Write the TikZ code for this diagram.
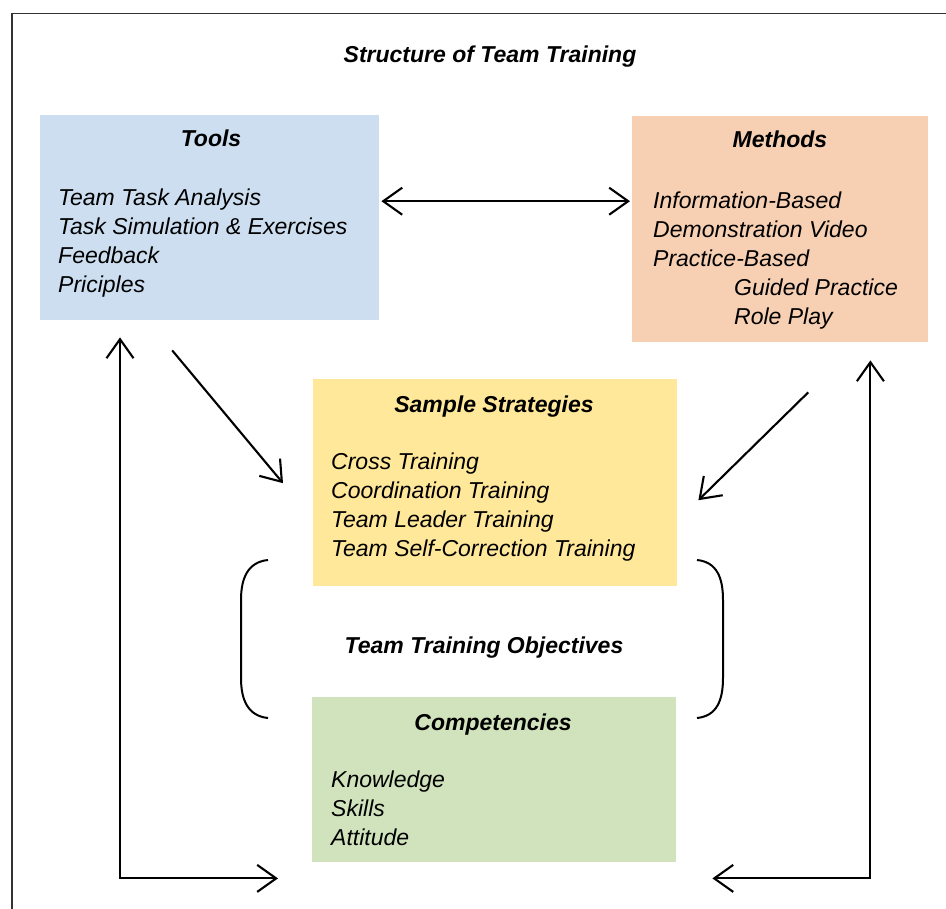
\documentclass[tikz,border=0pt]{standalone}
\usepackage{fontspec}
\setmainfont{Liberation Sans}
\usetikzlibrary{arrows.meta,calc}
\definecolor{toolsfill}{HTML}{CCDEEF}
\definecolor{methodsfill}{HTML}{F7CFB2}
\definecolor{stratfill}{HTML}{FFE899}
\definecolor{compfill}{HTML}{D1E3BC}
\definecolor{framegray}{HTML}{333333}
\begin{document}
\begin{tikzpicture}[x=1pt,y=-1pt,
  >={Straight Barb[length=19pt,width=27pt]},
  panel/.style={rectangle, inner sep=0pt, anchor=north west},
  head/.style={font=\fontsize{23}{29}\selectfont\bfseries\itshape, inner sep=0pt, anchor=base},
  body/.style={font=\fontsize{23}{29}\selectfont\itshape, align=left, inner sep=0pt, anchor=north west},
  link/.style={line width=2.1pt},
  bracket/.style={line width=2pt}]
\useasboundingbox (0,0) rectangle (946,909);
% outer frame (open at the right and bottom edges)
\draw[line width=1.6pt, framegray] (12,930) -- (12,13.5) -- (960,13.5);

% title
\node[head] (title) at (490,63) {Structure of Team Training};

% coloured panels
\node[panel, fill=toolsfill, minimum width=339pt, minimum height=205pt] (tools) at (40,115) {};
\node[panel, fill=methodsfill, minimum width=296pt, minimum height=226pt] (methods) at (632,116) {};
\node[panel, fill=stratfill, minimum width=364pt, minimum height=207pt] (strat) at (313,379) {};
\node[panel, fill=compfill, minimum width=364pt, minimum height=165pt] (comp) at (312,697) {};

% panel headings
\node[head] (toolshead) at (211,147) {Tools};
\node[head] (methodshead) at (780,148) {Methods};
\node[head] (strathead) at (494,413) {Sample Strategies};
\node[head] (comphead) at (493,730) {Competencies};
\node[head] (objectives) at (484,653) {Team Training Objectives};

% panel contents
\node[body] (toolsbody) at (58,188.5) {Team Task Analysis\\Task Simulation \& Exercises\\Feedback\\Priciples};
\node[body] (methodsbody) at (653,191.5) {Information-Based\\Demonstration Video\\Practice-Based\\\hspace*{81pt}Guided Practice\\\hspace*{81pt}Role Play};
\node[body] (stratbody) at (331,452.5) {Cross Training\\Coordination Training\\Team Leader Training\\Team Self-Correction Training};
\node[body] (compbody) at (331,770.5) {Knowledge\\Skills\\Attitude};

% connectors
\draw[link, <->] ([xshift=2pt,yshift=16.5pt]tools.east) -- ([xshift=-2pt,yshift=16.5pt]tools.east -| methods.west);
\draw[link, ->] ($(tools.south)+(-37.5,30)$) -- ($(strat.west)+(-30,0.5)$);
\draw[link, ->] ($(methods.south)+(28,50)$) -- ($(strat.east)+(21,17.5)$);
\draw[link, <->] ($(tools.south west)+(80,17)$) |- ($(comp.south west)+(-34,16)$);
\draw[link, <->] ($(methods.south east)+(-58,18)$) |- ($(comp.south east)+(36,16)$);

% round brackets around the objectives
\draw[bracket] (268,560) .. controls (248,562) and (241,578) .. (241,600) -- (241,678) .. controls (241,700) and (248,716) .. (268,718);
\draw[bracket] (697,560) .. controls (717,562) and (723,578) .. (723,600) -- (723,678) .. controls (723,700) and (717,716) .. (697,718);
\end{tikzpicture}
\end{document}
